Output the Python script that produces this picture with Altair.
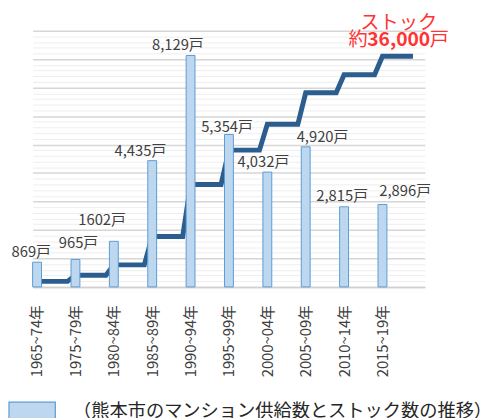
import json
import altair as alt
import pandas as pd

# ---------------- data ----------------
periods = ["1965~74年", "1975~79年", "1980~84年", "1985~89年", "1990~94年",
           "1995~99年", "2000~04年", "2005~09年", "2010~14年", "2015~19年"]
supply = [869, 965, 1602, 4435, 8129, 5354, 4032, 4920, 2815, 2896]
supply_labels = ["869戸", "965戸", "1602戸", "4,435戸", "8,129戸",
                 "5,354戸", "4,032戸", "4,920戸", "2,815戸", "2,896戸"]
stock = [869, 1834, 3436, 7871, 16000, 21354, 25386, 30306, 33121, 36017]
legend_label = "（熊本市のマンション供給数とストック数の推移）"
stock_title = "ストック"

# ---------------- style / layout ----------------
FONT = "Noto Sans CJK JP"
W, H = 398, 260
X_DOMAIN = [-0.1156, 10.105]
PX_PER_IDX = W / (X_DOMAIN[1] - X_DOMAIN[0])
Y_MAX = 9000
STOCK_MAX = 40000
STEP_GAP = 8 / PX_PER_IDX          # where the step line starts rising
label_dx = [-6, 3, -12, -12, -13, -2, -4, 17, -2, 23]   # label nudges (px)
label_rise = [10, 17, 22, 10, 11, 8, 10, 10, 11, 14]    # px above bar top
BAR_FILL, BAR_STROKE = "#bdd7ee", "#5b9bd5"
LINE_COLOR = "#2b5e8f"
RED = "#ff3333"
TEXT = "#404040"

idx = list(range(len(periods)))

bars_df = pd.DataFrame({"pos": idx, "supply": supply, "period": periods,
                        "series": [legend_label] * len(idx)})
labels_df = pd.DataFrame({
    "pos": [i + d / PX_PER_IDX for i, d in zip(idx, label_dx)],
    "ly": [v + r * Y_MAX / H for v, r in zip(supply, label_rise)],
    "label": supply_labels,
})
line_rows = []
for i, s in zip(idx, stock):
    line_rows.append({"pos": i, "stock": s, "seq": 2 * i})
    line_rows.append({"pos": i + 1 - STEP_GAP, "stock": s, "seq": 2 * i + 1})
line_df = pd.DataFrame(line_rows)

total_text = f"{int(round(stock[-1], -3)):,}"
ann_df = pd.DataFrame({"pos": [idx[-1] + (1 - STEP_GAP) / 2 + 1 / PX_PER_IDX],
                       "stock": [stock[-1]]})

xscale = alt.Scale(domain=X_DOMAIN, nice=False, zero=False, padding=0)
xaxis = alt.Axis(
    values=idx, labelExpr=json.dumps(periods, ensure_ascii=False) + "[datum.value]",
    title=None, grid=False, ticks=False, tickSize=0, labelAngle=-90,
    labelPadding=18, labelFont=FONT, labelFontSize=15, labelColor=TEXT,
    domainColor="#d0d0d0", domainWidth=1.5,
)
x_enc = alt.X("pos:Q", scale=xscale, axis=xaxis)
yscale = alt.Scale(domain=[0, Y_MAX], nice=False, zero=True, padding=0)
sscale = alt.Scale(domain=[0, STOCK_MAX], nice=False, zero=True, padding=0)

line = alt.Chart(line_df).mark_line(
    color=LINE_COLOR, strokeWidth=5, strokeJoin="miter"
).encode(
    x=x_enc,
    y=alt.Y("stock:Q", scale=sscale, axis=None),
    order="seq:Q",
)

bars = alt.Chart(bars_df).mark_bar(
    size=9, stroke=BAR_STROKE, strokeWidth=1, opacity=1
).encode(
    x=x_enc,
    y=alt.Y("supply:Q", scale=yscale, axis=alt.Axis(
        values=list(range(0, Y_MAX + 1, 200)), labels=False, ticks=False,
        domain=False, title=None, grid=True,
        gridColor={"condition": {"test": "datum.value % 1000 === 0", "value": "#d6d6d6"},
                   "value": "#eeeeee"},
        gridWidth={"condition": {"test": "datum.value % 1000 === 0", "value": 1.5},
                   "value": 1},
    )),
    color=alt.Color("series:N", scale=alt.Scale(range=[BAR_FILL]), legend=alt.Legend(
        orient="none", legendX=-25, legendY=361, title=None, padding=0,
        symbolType="M-1,-0.362H1V0.362H-1Z", symbolSize=2209,
        symbolStrokeColor=BAR_STROKE, symbolStrokeWidth=1.2, symbolOpacity=1,
        labelFont=FONT, labelFontSize=18.5, labelColor="#262626",
        labelOffset=17, labelLimit=0,
    )),
)

labels = alt.Chart(labels_df).mark_text(
    font=FONT, fontSize=15, color=TEXT, baseline="middle", align="center"
).encode(
    x=x_enc,
    y=alt.Y("ly:Q", scale=yscale, axis=None),
    text="label:N",
)

def ann(text, dx, dy, align="center", weight="normal"):
    return alt.Chart(ann_df).mark_text(
        font=FONT, fontSize=19.5, color=RED, align=align, baseline="middle",
        dx=dx, dy=dy, fontWeight=weight, text=text,
    ).encode(x=x_enc, y=alt.Y("stock:Q", scale=sscale, axis=None))

ann_title = ann(stock_title, 0, -34)
ann_pre = ann("約", -31.5, -16, align="right")
ann_num = ann(total_text, 0, -16, weight="bold")
ann_post = ann("戸", 31.5, -16, align="left")

chart = alt.layer(
    line, bars, labels, ann_title, ann_pre, ann_num, ann_post
).resolve_scale(y="independent").properties(
    width=W, height=H,
    autosize=alt.AutoSizeParams(type="none"),
    padding={"left": 25, "top": 20, "right": 60, "bottom": 130},
).configure_view(stroke=None).configure_axis(labelFont=FONT)

chart.save("out.html", embed_options={"renderer": "svg", "actions": False})
